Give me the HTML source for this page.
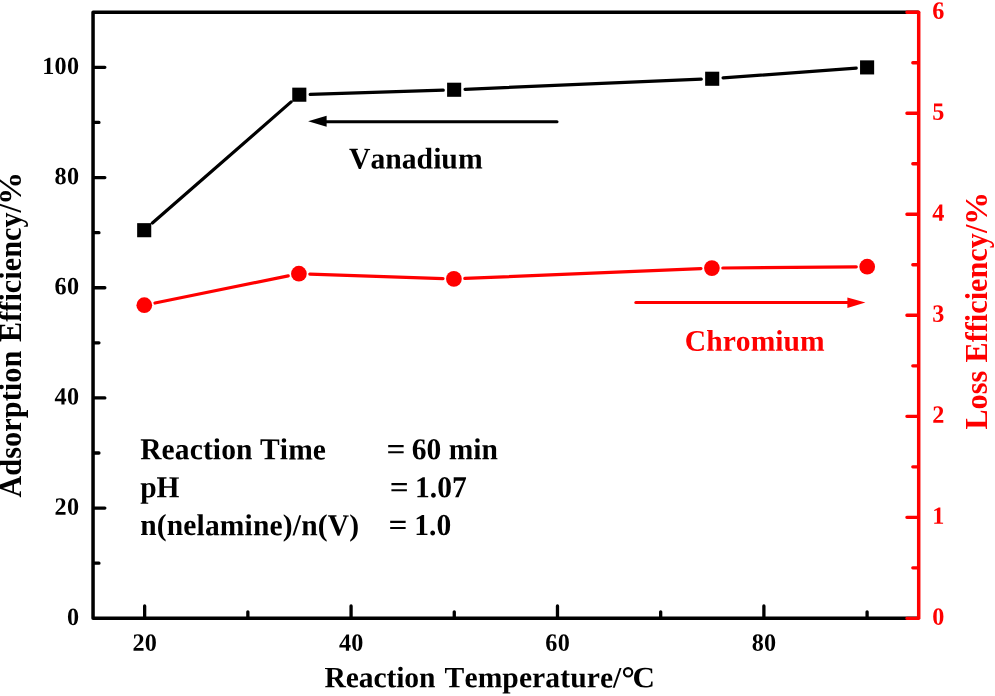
<!DOCTYPE html>
<html><head><meta charset="utf-8"><title>chart</title>
<style>html,body{margin:0;padding:0;background:#fff;overflow:hidden}body{width:995px;height:696px;position:relative;font-family:"Liberation Serif",serif}</style></head>
<body>
<svg width="995" height="696" viewBox="0 0 995 696" style="position:absolute;left:0;top:0;will-change:transform">
<rect width="995" height="696" fill="#fff"/>
<path d="M144.65 617.30V605.90M247.86 617.30V611.80M351.07 617.30V605.90M454.27 617.30V611.80M557.48 617.30V605.90M660.68 617.30V611.80M763.89 617.30V605.90M867.10 617.30V611.80M94.05 563.20H98.95M94.05 508.11H104.85M94.05 453.01H98.95M94.05 397.92H104.85M94.05 342.82H98.95M94.05 287.73H104.85M94.05 232.63H98.95M94.05 177.54H104.85M94.05 122.44H98.95M94.05 67.35H104.85" stroke="#000" stroke-width="3.3" stroke-linecap="round" fill="none"/>
<path d="M918.70 12.25H93.05V618.30H918.70" stroke="#000" stroke-width="3.5" stroke-linejoin="round" fill="none"/>
<path d="M917.70 618.30H906.90M917.70 567.80H912.80M917.70 517.29H906.90M917.70 466.79H912.80M917.70 416.28H906.90M917.70 365.78H912.80M917.70 315.27H906.90M917.70 264.77H912.80M917.70 214.27H906.90M917.70 163.76H912.80M917.70 113.26H906.90M917.70 62.75H912.80M917.70 12.25H906.90" stroke="#f00" stroke-width="3.3" stroke-linecap="round" fill="none"/>
<path d="M918.70 12.25V618.30" stroke="#f00" stroke-width="3.5" stroke-linecap="round" fill="none"/>
<path d="M152.41 223.03L291.09 101.87M310.19 94.35L443.26 90.10M465.04 89.29L701.31 79.21M723.07 77.95L856.23 68.20" stroke="#000" stroke-width="3.2" stroke-linecap="round" fill="none"/>
<path d="M154.98 303.02L288.22 275.88M309.79 274.07L443.01 278.53M464.79 278.44L701.01 268.56M722.80 268.00L856.30 266.80" stroke="#f00" stroke-width="3.2" stroke-linecap="round" fill="none"/>
<rect x="137.15" y="223.15" width="14.1" height="14.1" fill="#000"/>
<rect x="292.25" y="87.65" width="14.1" height="14.1" fill="#000"/>
<rect x="447.10" y="82.70" width="14.1" height="14.1" fill="#000"/>
<rect x="705.15" y="71.70" width="14.1" height="14.1" fill="#000"/>
<rect x="860.05" y="60.35" width="14.1" height="14.1" fill="#000"/>
<circle cx="144.30" cy="305.20" r="7.85" fill="#f00"/>
<circle cx="298.90" cy="273.70" r="7.85" fill="#f00"/>
<circle cx="453.90" cy="278.90" r="7.85" fill="#f00"/>
<circle cx="711.90" cy="268.10" r="7.85" fill="#f00"/>
<circle cx="867.20" cy="266.70" r="7.85" fill="#f00"/>
<path d="M557 121.7H322" stroke="#000" stroke-width="3" stroke-linecap="round" fill="none"/>
<path d="M308.1 121.3L326.6 115.8V126.8Z" fill="#000"/>
<path d="M635.8 302.6H852" stroke="#f00" stroke-width="3" stroke-linecap="round" fill="none"/>
<path d="M865.4 302.6L847.4 297.4V307.9Z" fill="#f00"/>
<text transform="translate(144.85 650.80) rotate(0.03) scale(1.0 1.025)" font-size="24.2" text-anchor="middle" fill="#000" letter-spacing="0.3" font-family="Liberation Serif" font-weight="bold" style="font-kerning:none;font-variant-ligatures:none">20</text>
<text transform="translate(351.27 650.80) rotate(0.03) scale(1.0 1.025)" font-size="24.2" text-anchor="middle" fill="#000" letter-spacing="0.3" font-family="Liberation Serif" font-weight="bold" style="font-kerning:none;font-variant-ligatures:none">40</text>
<text transform="translate(557.68 650.80) rotate(0.03) scale(1.0 1.025)" font-size="24.2" text-anchor="middle" fill="#000" letter-spacing="0.3" font-family="Liberation Serif" font-weight="bold" style="font-kerning:none;font-variant-ligatures:none">60</text>
<text transform="translate(764.09 650.80) rotate(0.03) scale(1.0 1.025)" font-size="24.2" text-anchor="middle" fill="#000" letter-spacing="0.3" font-family="Liberation Serif" font-weight="bold" style="font-kerning:none;font-variant-ligatures:none">80</text>
<text transform="translate(79.40 624.90) rotate(0.03) scale(1.0 1.025)" font-size="24.2" text-anchor="end" fill="#000" letter-spacing="0.3" font-family="Liberation Serif" font-weight="bold" style="font-kerning:none;font-variant-ligatures:none">0</text>
<text transform="translate(79.40 514.71) rotate(0.03) scale(1.0 1.025)" font-size="24.2" text-anchor="end" fill="#000" letter-spacing="0.3" font-family="Liberation Serif" font-weight="bold" style="font-kerning:none;font-variant-ligatures:none">20</text>
<text transform="translate(79.40 404.52) rotate(0.03) scale(1.0 1.025)" font-size="24.2" text-anchor="end" fill="#000" letter-spacing="0.3" font-family="Liberation Serif" font-weight="bold" style="font-kerning:none;font-variant-ligatures:none">40</text>
<text transform="translate(79.40 294.33) rotate(0.03) scale(1.0 1.025)" font-size="24.2" text-anchor="end" fill="#000" letter-spacing="0.3" font-family="Liberation Serif" font-weight="bold" style="font-kerning:none;font-variant-ligatures:none">60</text>
<text transform="translate(79.40 184.14) rotate(0.03) scale(1.0 1.025)" font-size="24.2" text-anchor="end" fill="#000" letter-spacing="0.3" font-family="Liberation Serif" font-weight="bold" style="font-kerning:none;font-variant-ligatures:none">80</text>
<text transform="translate(79.40 73.95) rotate(0.03) scale(1.0 1.025)" font-size="24.2" text-anchor="end" fill="#000" letter-spacing="0.3" font-family="Liberation Serif" font-weight="bold" style="font-kerning:none;font-variant-ligatures:none">100</text>
<text transform="translate(932.30 624.70) rotate(0.03) scale(1.0 1.025)" font-size="24.2" text-anchor="start" fill="#f00" letter-spacing="0.3" font-family="Liberation Serif" font-weight="bold" style="font-kerning:none;font-variant-ligatures:none">0</text>
<text transform="translate(932.30 523.69) rotate(0.03) scale(1.0 1.025)" font-size="24.2" text-anchor="start" fill="#f00" letter-spacing="0.3" font-family="Liberation Serif" font-weight="bold" style="font-kerning:none;font-variant-ligatures:none">1</text>
<text transform="translate(932.30 422.68) rotate(0.03) scale(1.0 1.025)" font-size="24.2" text-anchor="start" fill="#f00" letter-spacing="0.3" font-family="Liberation Serif" font-weight="bold" style="font-kerning:none;font-variant-ligatures:none">2</text>
<text transform="translate(932.30 321.67) rotate(0.03) scale(1.0 1.025)" font-size="24.2" text-anchor="start" fill="#f00" letter-spacing="0.3" font-family="Liberation Serif" font-weight="bold" style="font-kerning:none;font-variant-ligatures:none">3</text>
<text transform="translate(932.30 220.67) rotate(0.03) scale(1.0 1.025)" font-size="24.2" text-anchor="start" fill="#f00" letter-spacing="0.3" font-family="Liberation Serif" font-weight="bold" style="font-kerning:none;font-variant-ligatures:none">4</text>
<text transform="translate(932.30 119.66) rotate(0.03) scale(1.0 1.025)" font-size="24.2" text-anchor="start" fill="#f00" letter-spacing="0.3" font-family="Liberation Serif" font-weight="bold" style="font-kerning:none;font-variant-ligatures:none">5</text>
<text transform="translate(932.30 18.65) rotate(0.03) scale(1.0 1.025)" font-size="24.2" text-anchor="start" fill="#f00" letter-spacing="0.3" font-family="Liberation Serif" font-weight="bold" style="font-kerning:none;font-variant-ligatures:none">6</text>
<text transform="translate(349 168.4) rotate(0.03) scale(1.0 1.01)" font-size="29.7" text-anchor="start" fill="#000" font-family="Liberation Serif" font-weight="bold" style="font-kerning:none;font-variant-ligatures:none" >Vanadium</text>
<text transform="translate(684.8 350.8) rotate(0.03) scale(1.0 1.01)" font-size="29.55" text-anchor="start" fill="#f00" font-family="Liberation Serif" font-weight="bold" style="font-kerning:none;font-variant-ligatures:none" letter-spacing="0.05">Chromium</text>
<text transform="translate(140.2 459.3) rotate(0.03) scale(1.0 1.03)" font-size="29.5" text-anchor="start" fill="#000" font-family="Liberation Serif" font-weight="bold" style="font-kerning:none;font-variant-ligatures:none" letter-spacing="0.12">Reaction Time</text>
<text transform="translate(140.2 497.2) rotate(0.03) scale(1.0 1.03)" font-size="29.5" text-anchor="start" fill="#000" font-family="Liberation Serif" font-weight="bold" style="font-kerning:none;font-variant-ligatures:none" >pH</text>
<text transform="translate(140.2 535.1) rotate(0.03) scale(1.0 1.03)" font-size="29.5" text-anchor="start" fill="#000" font-family="Liberation Serif" font-weight="bold" style="font-kerning:none;font-variant-ligatures:none" letter-spacing="0.17">n(nelamine)/n(V)</text>
<text transform="translate(386.6 459.3) rotate(0.03) scale(1.13 1.03)" font-size="29.5" fill="#000" font-family="Liberation Serif" font-weight="bold" style="font-kerning:none;font-variant-ligatures:none">=</text>
<text transform="translate(389.7 497.2) rotate(0.03) scale(1.13 1.03)" font-size="29.5" fill="#000" font-family="Liberation Serif" font-weight="bold" style="font-kerning:none;font-variant-ligatures:none">=</text>
<text transform="translate(388.6 535.1) rotate(0.03) scale(1.13 1.03)" font-size="29.5" fill="#000" font-family="Liberation Serif" font-weight="bold" style="font-kerning:none;font-variant-ligatures:none">=</text>
<text transform="translate(411.7 459.3) rotate(0.03) scale(1.0 1.03)" font-size="29.5" text-anchor="start" fill="#000" font-family="Liberation Serif" font-weight="bold" style="font-kerning:none;font-variant-ligatures:none" letter-spacing="0.05">60 min</text>
<text transform="translate(415.1 497.2) rotate(0.03) scale(1.0 1.03)" font-size="29.5" text-anchor="start" fill="#000" font-family="Liberation Serif" font-weight="bold" style="font-kerning:none;font-variant-ligatures:none" >1.07</text>
<text transform="translate(414.3 535.1) rotate(0.03) scale(1.0 1.03)" font-size="29.5" text-anchor="start" fill="#000" font-family="Liberation Serif" font-weight="bold" style="font-kerning:none;font-variant-ligatures:none" >1.0</text>
<text transform="translate(324.6 687.3) rotate(0.03) scale(1 1.0)" font-size="29.6" fill="#000" letter-spacing="-0.14" font-family="Liberation Serif" font-weight="bold" style="font-kerning:none;font-variant-ligatures:none">Reaction</text>
<text transform="translate(444.6 687.3) rotate(0.03) scale(1 1.0)" font-size="29.6" fill="#000" letter-spacing="0.08" font-family="Liberation Serif" font-weight="bold" style="font-kerning:none;font-variant-ligatures:none">Temperature/</text>
<circle cx="628.1" cy="672.3" r="4.15" fill="none" stroke="#000" stroke-width="2.1"/>
<text transform="translate(632.4 687.3) rotate(0.03) scale(1.05 1.0)" font-size="29.6" fill="#000" letter-spacing="0" font-family="Liberation Serif" font-weight="bold" style="font-kerning:none;font-variant-ligatures:none">C</text>
<g transform="translate(20.9 0) rotate(-90) scale(1 1.07)" font-size="30.2" fill="#000" font-family="Liberation Serif" font-weight="bold" style="font-kerning:none;font-variant-ligatures:none">
<text x="-497.60" y="0" letter-spacing="0.11">Adsorption</text>
<text x="-341.90" y="0" letter-spacing="0.03">Efficiency/</text>
<text transform="translate(-204.90 0) scale(1.1 1)" letter-spacing="0">%</text>
</g>
<g transform="translate(987 0) rotate(-90) scale(1 1.07)" font-size="30.2" fill="#f00" font-family="Liberation Serif" font-weight="bold" style="font-kerning:none;font-variant-ligatures:none">
<text x="-429.60" y="0" letter-spacing="0">Loss</text>
<text x="-362.50" y="0" letter-spacing="0.03">Efficiency/</text>
<text transform="translate(-224.90 0) scale(1.1 1)" letter-spacing="0">%</text>
</g>
</svg>
</body></html>
